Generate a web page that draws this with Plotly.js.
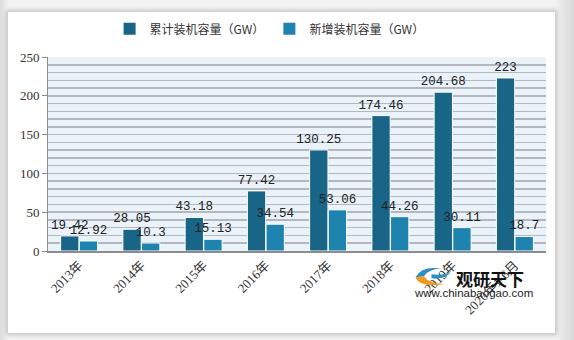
<!DOCTYPE html>
<html>
<head>
<meta charset="utf-8">
<script src="https://cdn.plot.ly/plotly-3.0.1.min.js"></script>
<style>
  html, body { margin: 0; padding: 0; width: 574px; height: 340px; overflow: hidden;
    background: linear-gradient(to right, #dcdcdc 0px, #f2f2f2 8px, #f2f2f2 555px, #d8d8d8 574px); }
  #card { position: absolute; left: 8px; top: 12px; width: 547px; height: 321px; background: #ffffff;
    box-shadow: 0 0 4px 2px rgba(0,0,0,0.18); }
</style>
</head>
<body>
<div id="card"></div>
<script>
// ---- data ----
var categories = ["2013年", "2014年", "2015年", "2016年", "2017年", "2018年", "2019年", "2020年1-6月"];
var cumulativeName = "累计装机容量（GW）";
var cumulativeValues = [19.42, 28.05, 43.18, 77.42, 130.25, 174.46, 204.68, 223];
var newName = "新增装机容量（GW）";
var newValues = [12.92, 10.3, 15.13, 34.54, 53.06, 44.26, 30.11, 18.7];
var yTickVals = [0, 50, 100, 150, 200, 250];

var darkColor = "#186588";
var lightColor = "#1f83b0";
var labelFont = { family: "Liberation Mono, DejaVu Sans Mono, monospace", size: 12.5, color: "#222" };

var traces = [
  {
    type: "bar", name: cumulativeName, x: categories, y: cumulativeValues, showlegend: false,
    marker: { color: darkColor, line: { color: "#ffffff", width: 1 } },
    text: cumulativeValues.map(String), textposition: "outside", textfont: labelFont,
    constraintext: "none", cliponaxis: false, hoverinfo: "skip"
  },
  {
    type: "bar", name: newName, x: categories, y: newValues, showlegend: false,
    marker: { color: lightColor, line: { color: "#ffffff", width: 1 } },
    text: newValues.map(String), textposition: "outside", textfont: labelFont,
    constraintext: "none", cliponaxis: false, hoverinfo: "skip"
  },
  // legend entries with small square markers
  { type: "scatter", mode: "markers", name: cumulativeName, x: [null], y: [null],
    marker: { symbol: "square", size: 7, color: darkColor }, hoverinfo: "skip" },
  { type: "scatter", mode: "markers", name: newName, x: [null], y: [null],
    marker: { symbol: "square", size: 7, color: lightColor }, hoverinfo: "skip" }
];

var layout = {
  width: 547, height: 321,
  margin: { l: 40, r: 9, t: 45, b: 82, autoexpand: false },
  paper_bgcolor: "rgba(0,0,0,0)",
  plot_bgcolor: "#eaf2fa",
  barmode: "group", bargap: 0.4, bargroupgap: 0.02,
  showlegend: true,
  legend: {
    orientation: "h", x: 0.445, xanchor: "center", y: 1.145, yanchor: "middle",
    font: { family: "Noto Sans CJK SC, sans-serif", size: 12, color: "#333" },
    itemwidth: 30, traceorder: "normal", bgcolor: "rgba(0,0,0,0)", itemsizing: "constant"
  },
  xaxis: {
    type: "category", tickangle: -45,
    tickfont: { family: "Liberation Serif, Noto Sans CJK SC, serif", size: 13, color: "#333" },
    showline: true, linecolor: "#8c8c8c", linewidth: 1.5, ticks: "", showgrid: false
  },
  yaxis: {
    range: [0, 250], tickvals: yTickVals, ticktext: yTickVals.map(String),
    tickfont: { family: "Liberation Serif, serif", size: 13, color: "#333" },
    showline: true, linecolor: "#8c8c8c", linewidth: 1, ticks: "outside", ticklen: 5, tickcolor: "#8c8c8c",
    showgrid: true, gridcolor: "#b4b8bc", gridwidth: 1.5, zeroline: false,
    minor: { dtick: 10, showgrid: true, gridcolor: "#b4b8bc", gridwidth: 1.5 }
  },
  annotations: [
    { xref: "paper", yref: "paper", x: 0.815, y: -0.14, xanchor: "left", yanchor: "middle",
      text: "<b>观研天下</b>", showarrow: false,
      font: { family: "Noto Sans CJK SC, sans-serif", size: 17, color: "#111" } },
    { xref: "paper", yref: "paper", x: 0.73, y: -0.215, xanchor: "left", yanchor: "middle",
      text: "www.chinabaogao.com", showarrow: false,
      font: { family: "Liberation Sans, Arial, sans-serif", size: 11.5, color: "#222" } }
  ],
  shapes: [
    { type: "path", xref: "paper", yref: "paper",
      path: "M 0.738 -0.135 Q 0.75 -0.075 0.79 -0.09 Q 0.762 -0.095 0.755 -0.13 Z",
      fillcolor: "#2b8fc6", line: { width: 0 } },
    { type: "path", xref: "paper", yref: "paper",
      path: "M 0.738 -0.135 Q 0.745 -0.19 0.80 -0.17 Q 0.765 -0.17 0.755 -0.13 Z",
      fillcolor: "#f39a1e", line: { width: 0 } },
    { type: "path", xref: "paper", yref: "paper",
      path: "M 0.77 -0.12 Q 0.80 -0.13 0.81 -0.10 Q 0.80 -0.15 0.77 -0.14 Z",
      fillcolor: "#2b8fc6", line: { width: 0 } }
  ]
};

Plotly.newPlot("card", traces, layout, { displayModeBar: false, staticPlot: true });
</script>
</body>
</html>
